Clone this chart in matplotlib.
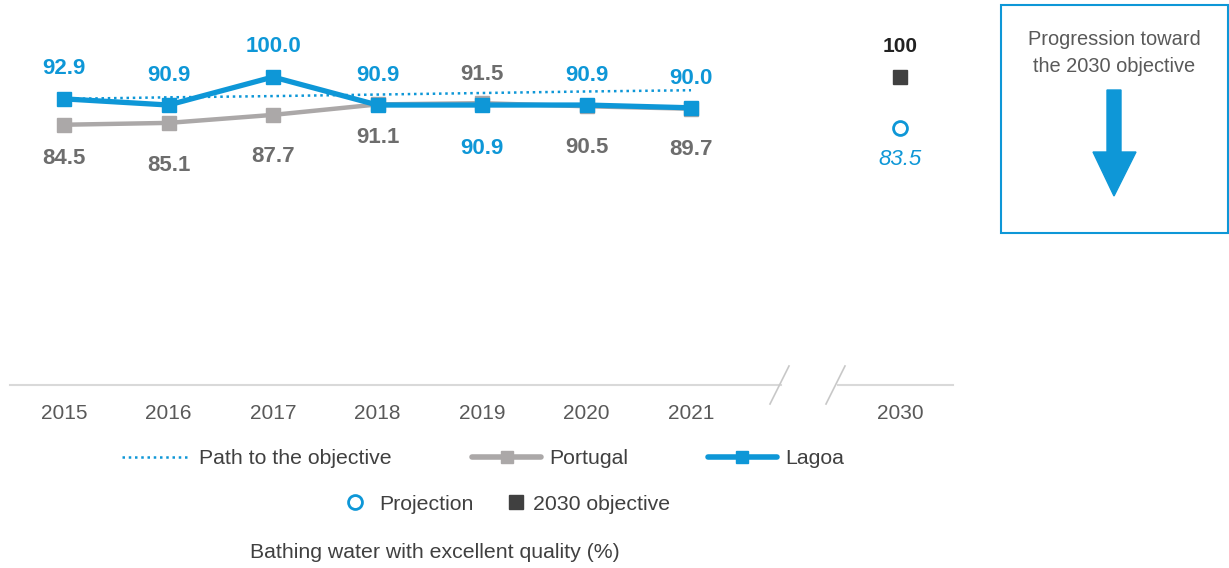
import matplotlib
matplotlib.use("Agg")
import matplotlib.pyplot as plt
from matplotlib.lines import Line2D
from matplotlib.patches import Rectangle, Polygon

plt.rcParams['font.family'] = ['Liberation Sans', 'DejaVu Sans']

# data
years = ['2015', '2016', '2017', '2018', '2019', '2020', '2021']
lagoa = [92.9, 90.9, 100.0, 90.9, 90.9, 90.9, 90.0]
portugal = [84.5, 85.1, 87.7, 91.1, 91.5, 90.5, 89.7]
path = [92.9, 93.4, 93.8, 94.3, 94.8, 95.3, 95.7]
target_year = '2030'
objective = 100
projection = 83.5

BLUE = '#0e97d7'
GREY = '#aba8a8'
LBL_GREY = '#6d6d6d'
DARK = '#404040'

W, H = 1229, 568
fig = plt.figure(figsize=(W / 100, H / 100), dpi=100)


def px(x, y):
    return x / W, 1 - y / H


ax = fig.add_axes([10 / W, 1 - 385 / H, 943 / W, 385 / H])
ax.set_xlim(-0.517, 8.507)
ax.set_ylim(0, 125)
for s in ax.spines.values():
    s.set_visible(False)

xs = list(range(len(years)))
x_target = 8

ax.plot(xs, path, linestyle=(0, (1, 1.5)), color=BLUE, lw=1.8, zorder=2)
ax.plot(xs, portugal, color=GREY, lw=3.2, marker='s', ms=10, zorder=3)
ax.plot(xs, lagoa, color=BLUE, lw=3.8, marker='s', ms=10, zorder=4)
ax.plot([x_target], [objective], marker='s', color=DARK, ms=10, ls='none')
ax.plot([x_target], [projection], marker='o', mfc='white', mec=BLUE, mew=2, ms=10, ls='none')

ax.set_xticks(xs + [x_target], years + [target_year])
ax.set_yticks([])
ax.tick_params(axis='x', length=0, pad=14, labelsize=15, labelcolor='#595959')

# data labels (offsets in points)
lagoa_off = [22, 21, 22, 21, -31, 21, 21]
port_off = [-24, -31, -30, -24, 21, -30, -29]
for i in xs:
    ax.annotate(f'{lagoa[i]:.1f}', (i, lagoa[i]), xytext=(0, lagoa_off[i]), textcoords='offset points',
                ha='center', va='center', fontsize=16, fontweight='bold', color=BLUE)
    ax.annotate(f'{portugal[i]:.1f}', (i, portugal[i]), xytext=(0, port_off[i]), textcoords='offset points',
                ha='center', va='center', fontsize=16, fontweight='bold', color=LBL_GREY)
ax.annotate(f'{objective}', (x_target, objective), xytext=(0, 22), textcoords='offset points',
            ha='center', va='center', fontsize=15, fontweight='bold', color='#222222')
ax.annotate(f'{projection}', (x_target, projection), xytext=(0, -23), textcoords='offset points',
            ha='center', va='center', fontsize=16, fontstyle='italic', color=BLUE)

# broken baseline
def fline(x0, y0, x1, y1, **kw):
    a, b = px(x0, y0)
    c, d = px(x1, y1)
    fig.add_artist(Line2D([a, c], [b, d], **kw))

fline(10, 385, 781, 385, color='#d9d9d9', lw=1.5)
fline(838, 385, 953, 385, color='#d9d9d9', lw=1.5)
fline(770, 404, 789, 366, color='#c8c8c8', lw=1.2)
fline(826, 404, 845, 366, color='#c8c8c8', lw=1.2)

# legend
tcol = '#404040'
fs = 15.3
fline(122, 457, 187, 457, color=BLUE, lw=1.8, linestyle=(0, (1, 1.5)))
fig.text(*px(199, 459), 'Path to the objective', fontsize=fs, color=tcol, va='center')
fline(472, 457, 541, 457, color=GREY, lw=4, solid_capstyle='round')
fig.add_artist(Line2D([px(507, 0)[0]], [px(0, 457)[1]], marker='s', color=GREY, ms=8))
fig.text(*px(549, 459), 'Portugal', fontsize=fs, color=tcol, va='center')
fline(708, 457, 777, 457, color=BLUE, lw=4, solid_capstyle='round')
fig.add_artist(Line2D([px(742, 0)[0]], [px(0, 457)[1]], marker='s', color=BLUE, ms=8))
fig.text(*px(785, 459), 'Lagoa', fontsize=fs, color=tcol, va='center')
fig.add_artist(Line2D([px(355, 0)[0]], [px(0, 502)[1]], marker='o', mfc='white', mec=BLUE, mew=2, ms=10, ls='none'))
fig.text(*px(379, 504), 'Projection', fontsize=fs, color=tcol, va='center')
fig.add_artist(Line2D([px(516, 0)[0]], [px(0, 502)[1]], marker='s', color=DARK, ms=10, ls='none'))
fig.text(*px(533, 504), '2030 objective', fontsize=fs, color=tcol, va='center')

fig.text(*px(435, 553), 'Bathing water with excellent quality (%)', fontsize=15.3,
         color=tcol, ha='center', va='center')

# side box
x0, y0 = px(1001, 233)
fig.add_artist(Rectangle((x0, y0), 227 / W, 228 / H, fill=False, edgecolor=BLUE, lw=1.5))
fig.text(*px(1114, 53), 'Progression toward\nthe 2030 objective', fontsize=14.4, color='#595959',
         ha='center', va='center', linespacing=1.55)
arrow = [(1107, 90), (1121, 90), (1121, 152), (1136, 152), (1114, 196),
         (1093, 152), (1107, 152)]
fig.add_artist(Polygon([px(a, b) for a, b in arrow], closed=True, color=BLUE))

fig.savefig('out.png', dpi=100, facecolor='white')
